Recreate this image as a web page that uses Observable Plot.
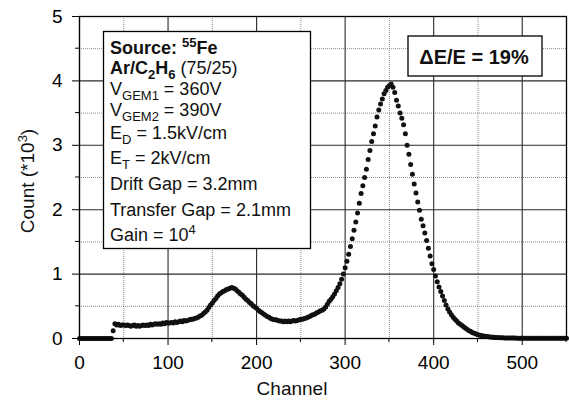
<!DOCTYPE html>
<html><head><meta charset="utf-8">
<script src="https://cdn.jsdelivr.net/npm/d3@7"></script>
<script src="https://cdn.jsdelivr.net/npm/@observablehq/plot@0.6"></script>
<style>body{margin:0;background:#fff;}</style>
</head><body><div id="chart"></div>
<script>
// Channel bins are 2 channels wide, starting at channel 0
const CHANNEL_STEP = 2;
// Counts (*10^3), one per bin (channels 0,2,4,...,550)
const counts = [
  0,0,0,0,0,0,0,0,0,0,0,0,0,0,0,0,0,0,0,
  0.12,0.23,0.21,0.22,0.20,0.21,0.21,0.20,0.21,0.20,0.19,0.20,0.21,0.19,0.20,0.19,0.20,0.21,0.20,0.21,0.20,
  0.22,0.21,0.22,0.23,0.22,0.23,0.22,0.24,0.23,0.25,0.24,0.24,0.25,0.24,0.26,0.25,0.26,0.27,0.26,0.28,
  0.27,0.28,0.29,0.30,0.30,0.31,0.32,0.33,0.35,0.36,0.39,0.41,0.44,0.48,0.52,0.55,0.59,0.62,0.66,0.69,
  0.71,0.73,0.74,0.76,0.77,0.78,0.79,0.78,0.77,0.74,0.72,0.69,0.67,0.64,0.61,0.59,0.56,0.54,0.51,0.49,
  0.47,0.44,0.42,0.40,0.38,0.36,0.34,0.33,0.31,0.30,0.29,0.29,0.28,0.27,0.27,0.26,0.27,0.26,0.27,0.26,
  0.27,0.28,0.27,0.28,0.29,0.30,0.30,0.31,0.32,0.33,0.34,0.36,0.37,0.38,0.40,0.41,0.43,0.44,0.46,0.49,
  0.53,0.58,0.61,0.65,0.69,0.74,0.79,0.85,0.92,1.00,
  1.10,1.20,1.31,1.43,1.55,1.68,1.81,1.95,2.10,2.25,2.37,2.50,2.63,2.78,2.92,3.06,3.18,3.30,3.44,3.55,
  3.64,3.72,3.80,3.85,3.90,3.93,3.95,3.90,3.82,3.70,3.61,3.50,3.42,3.32,3.18,3.00,2.86,2.70,2.55,2.40,
  2.26,2.12,1.99,1.85,1.75,1.64,1.52,1.40,1.28,1.16,1.07,0.97,0.88,0.80,0.73,0.66,0.59,0.52,0.46,0.41,
  0.37,0.33,0.30,0.27,0.24,0.22,0.20,0.18,0.16,0.14,0.12,0.11,0.09,0.08,0.07,0.06,0.05,0.045,0.04,0.035,
  0.03,0.027,0.024,0.02,0.018,0.016,0.014,0.012,0.011,0.01,0.009,0.009,0.008,0.008,0.007,0.006,0.006,0.005,0.005,0.005,
  0.004,0.004,0.004,0.004,0.004,0.004,0.004,0.004,0.004,0.004,0.004,0.004,
  0.003,0.003,0.003,0.003,0.003,0.003,0.003,0.003,0.003,0.003,0.003,0.003,0.003,0.003
];
const xMajorTicks = [0, 100, 200, 300, 400, 500];
const xMinorTicks = [50, 150, 250, 350, 450, 550];
const yMajorTicks = [0, 1, 2, 3, 4, 5];
const yMinorTicks = [0.5, 1.5, 2.5, 3.5, 4.5];
const xLabel = "Channel";
const yLabel = "Count (*10^{3})";
const resolutionText = "ΔE/E = 19%";
const infoLines = [
  "**Source: ^{55}Fe**",
  "**Ar/C_{2}H_{6}** (75/25)",
  "V_{GEM1} = 360V",
  "V_{GEM2} = 390V",
  "E_{D} = 1.5kV/cm",
  "E_{T} = 2kV/cm",
  "Drift Gap = 3.2mm",
  "Transfer Gap = 2.1mm",
  "Gain = 10^{4}"
];

const data = counts.map((c, i) => ({channel: i * CHANNEL_STEP, count: c}));
const FONT = "'Liberation Sans', Arial, Helvetica, sans-serif";

const plot = Plot.plot({
  width: 569, height: 401,
  marginLeft: 79, marginRight: 3, marginTop: 16, marginBottom: 63,
  style: {fontFamily: FONT, fontSize: "19px", background: "#fff", color: "#000"},
  x: {domain: [0, 550], label: null},
  y: {domain: [0, 5], label: null},
  marks: [
    Plot.ruleX(xMinorTicks, {x: d => d, stroke: "#8a8a8a", strokeWidth: 1, strokeDasharray: "1,1"}),
    Plot.ruleY(yMinorTicks, {y: d => d, stroke: "#8a8a8a", strokeWidth: 1, strokeDasharray: "1,1"}),
    Plot.ruleX(xMajorTicks, {x: d => d, stroke: "#2a2a2a", strokeWidth: 1.1}),
    Plot.ruleY(yMajorTicks, {y: d => d, stroke: "#2a2a2a", strokeWidth: 1.1}),
    Plot.axisX(xMajorTicks, {tickSize: 7, tickPadding: 10, fontSize: 19, label: null, stroke: "#000", tickFormat: d3.format("d")}),
    Plot.axisY(yMajorTicks, {tickSize: 7, tickPadding: 10, fontSize: 19, label: null, stroke: "#000", tickFormat: d3.format("d")}),
    Plot.dot(data, {x: "channel", y: "count", r: 2.5, fill: "#111", stroke: "none"}),
    Plot.frame({stroke: "#000", strokeWidth: 1.3})
  ]
});

// minor ticks outside the frame, placed through the plot's own scales
const xs = plot.scale("x"), ys = plot.scale("y");
const xLeft = Math.min(...xs.range), yBottom = Math.max(...ys.range);
const svg = d3.select(plot);
const minor = svg.append("g").attr("stroke", "#000").attr("stroke-width", 1);
xMinorTicks.forEach(v => {
  const p = xs.apply(v);
  minor.append("line").attr("x1", p).attr("x2", p).attr("y1", yBottom).attr("y2", yBottom + 4);
});
yMinorTicks.forEach(v => {
  const p = ys.apply(v);
  minor.append("line").attr("y1", p).attr("y2", p).attr("x1", xLeft).attr("x2", xLeft - 4);
});

function addRich(textSel, str, baseSize, smallSize, subOff, supOff) {
  let bold = false, shift = 0;
  const parts = str.split(/(\*\*|\^\{[^}]*\}|_\{[^}]*\})/).filter(s => s !== "");
  for (const p of parts) {
    if (p === "**") { bold = !bold; continue; }
    let t = p, target = 0, size = baseSize;
    if (p.startsWith("^{")) { t = p.slice(2, -1); target = -supOff; size = smallSize; }
    else if (p.startsWith("_{")) { t = p.slice(2, -1); target = subOff; size = smallSize; }
    const ts = textSel.append("tspan").text(t)
      .attr("font-size", size).attr("font-weight", bold ? "bold" : "normal");
    if (target - shift !== 0) ts.attr("dy", target - shift);
    shift = target;
  }
}

const g = svg.append("g").attr("font-family", FONT).attr("text-anchor", "start");

// info box
g.append("rect").attr("x", 103.5).attr("y", 31.5).attr("width", 207).attr("height", 217)
  .attr("fill", "#fff").attr("stroke", "#000").attr("stroke-width", 1.3);
const baselines = [53.7, 73.5, 94.5, 115.5, 139, 163.5, 189.5, 216, 240.5];
infoLines.forEach((line, i) => {
  const t = g.append("text").attr("x", 110).attr("y", baselines[i]).attr("fill", "#111");
  addRich(t, line, 18, 13, 5, 7);
});

// resolution box
g.append("rect").attr("x", 408).attr("y", 36).attr("width", 134).attr("height", 40)
  .attr("fill", "#fff").attr("stroke", "#000").attr("stroke-width", 1.3);
g.append("text").attr("x", 474).attr("y", 63.5).attr("text-anchor", "middle")
  .attr("font-size", 20).attr("font-weight", "bold").attr("fill", "#111").text(resolutionText);

// axis labels
g.append("text").attr("x", 292).attr("y", 395).attr("text-anchor", "middle")
  .attr("font-size", 19).attr("fill", "#111").text(xLabel);
const yl = g.append("text").attr("transform", "translate(34,181) rotate(-90)")
  .attr("text-anchor", "middle").attr("fill", "#111");
addRich(yl, yLabel, 19, 13, 5, 7);

document.getElementById("chart").appendChild(plot);
</script>
</body></html>
